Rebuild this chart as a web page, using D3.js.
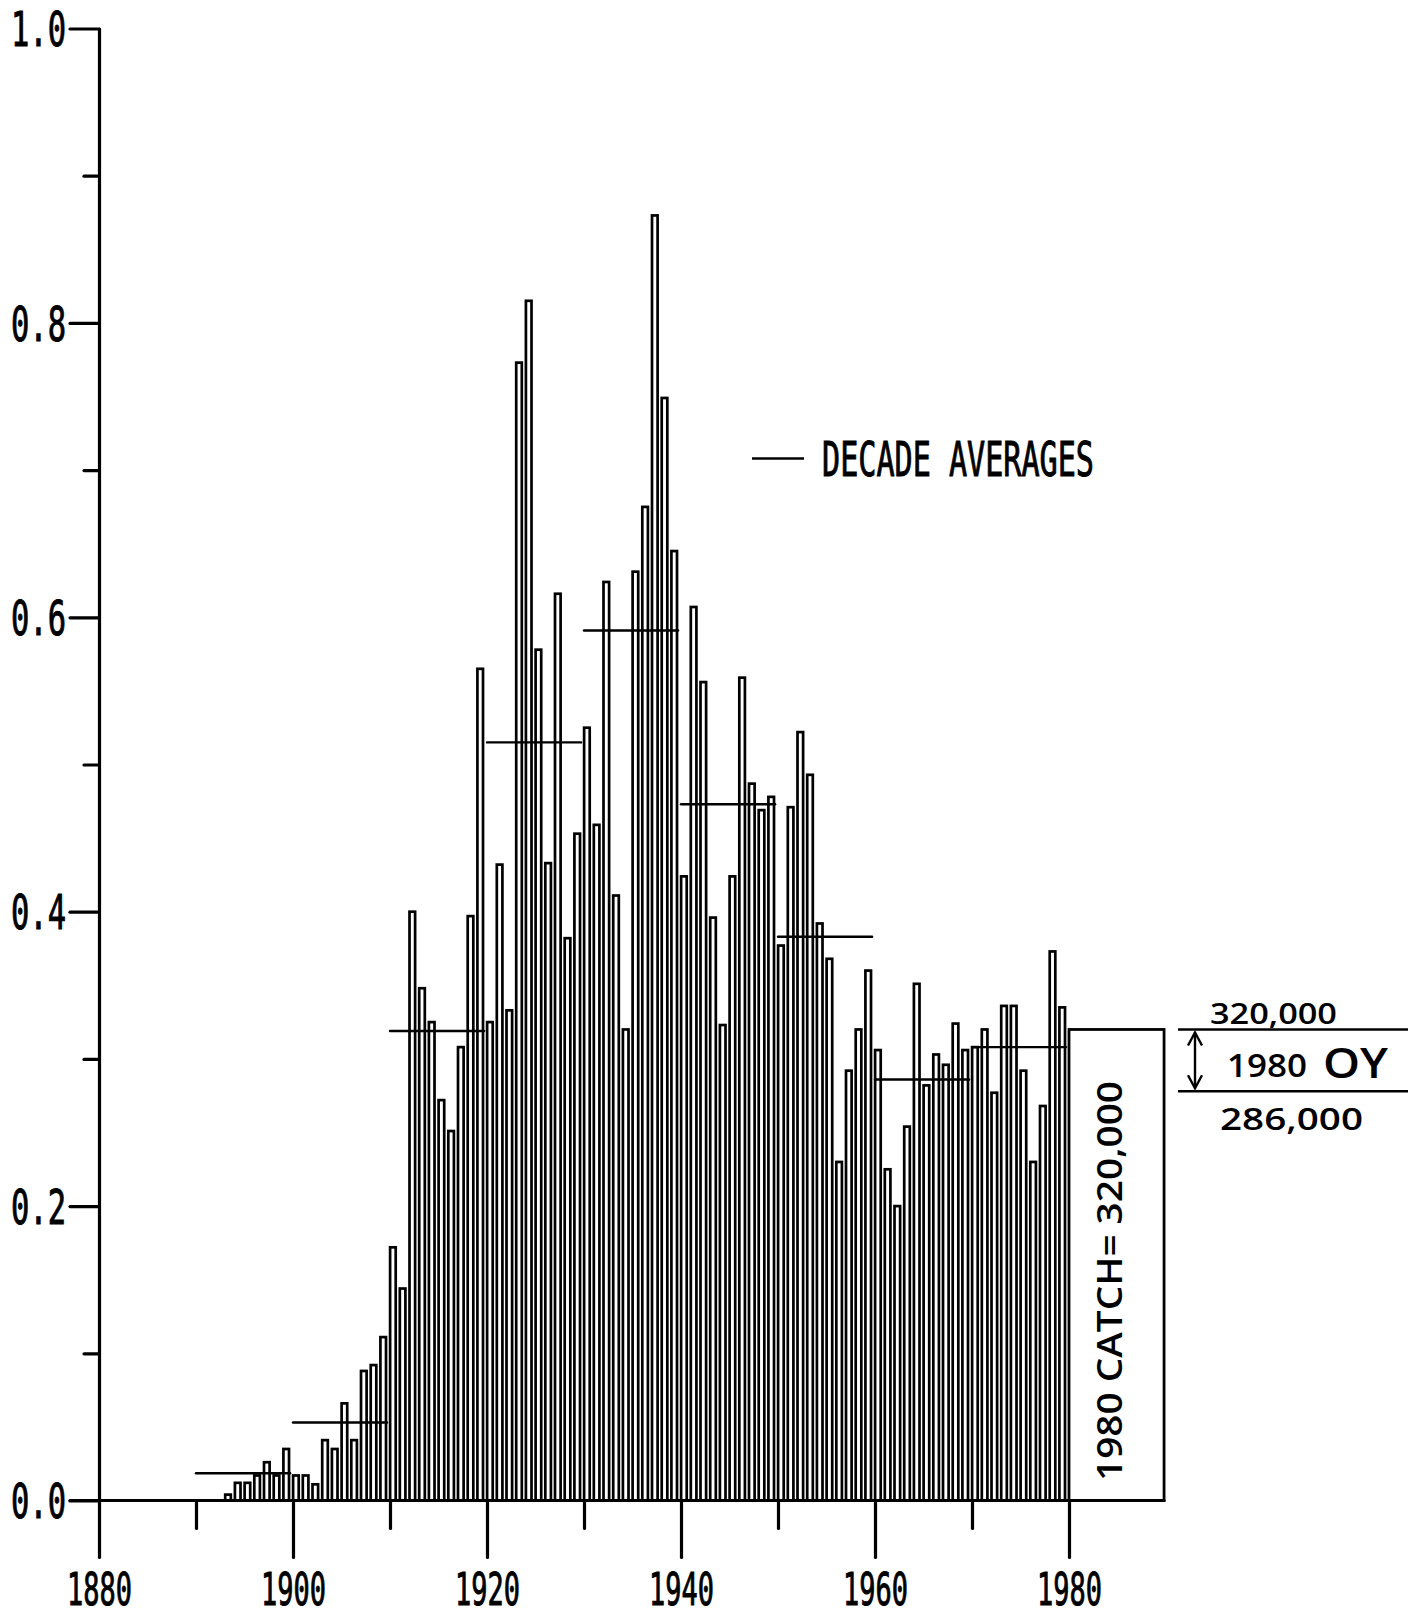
<!DOCTYPE html>
<html>
<head>
<meta charset="utf-8">
<title>Catch by year</title>
<script src="https://d3js.org/d3.v7.min.js"></script>
<style>
  body { margin: 0; background: #fff; }
  svg { display: block; background: #fff; }
  .bar { fill: #fff; stroke: #000; stroke-width: 2.7; }
  .avg { stroke: #000; stroke-width: 2.4; stroke-linecap: round; }
  .axis line, .axis path { stroke: #000; stroke-width: 3.2; stroke-linecap: round; }
  .plot-text { font-family: "DejaVu Sans Mono", monospace; fill: #000; }
  .hand { font-family: "Open Sans", sans-serif; fill: #000; font-weight: 600; }
</style>
</head>
<body>
<svg id="chart"></svg>
<script>
// yearly values (fraction of 1.0 scale)
var years = d3.range(1893, 1980);
var catchValues = [
  0.004, 0.012, 0.012, 0.017, 0.026, 0.017, 0.035,
  0.017, 0.017, 0.011, 0.041, 0.035, 0.066, 0.041, 0.088, 0.092, 0.111,
  0.172, 0.144, 0.400, 0.348, 0.325, 0.272, 0.251, 0.308, 0.397, 0.565,
  0.325, 0.432, 0.333, 0.773, 0.815, 0.578, 0.433, 0.616, 0.382, 0.453,
  0.525, 0.459, 0.624, 0.411, 0.320, 0.631, 0.675, 0.873, 0.749, 0.645,
  0.424, 0.607, 0.556, 0.396, 0.323, 0.424, 0.559, 0.487, 0.469, 0.478,
  0.377, 0.471, 0.522, 0.493, 0.392, 0.368, 0.230, 0.292, 0.320, 0.360,
  0.306, 0.225, 0.200, 0.254, 0.351, 0.282, 0.303, 0.296, 0.324, 0.306,
  0.308, 0.320, 0.277, 0.336, 0.336, 0.292, 0.230, 0.268, 0.373, 0.335
];
var decades = [1890, 1900, 1910, 1920, 1930, 1940, 1950, 1960, 1970];
var decadeAverages = [0.0185, 0.053, 0.319, 0.515, 0.591, 0.473, 0.383, 0.286, 0.308];

var yMajor = [0, 0.2, 0.4, 0.6, 0.8, 1.0];
var yMinor = [0.1, 0.3, 0.5, 0.7, 0.9];
var xMajor = [1880, 1900, 1920, 1940, 1960, 1980];
var xMinor = [1890, 1910, 1930, 1950, 1970];

var catch1980 = 0.32;
var catchLabel = "1980 CATCH= 320,000";
var oyHigh = 0.32, oyLow = 0.278;

var width = 1414, height = 1616;
var x = d3.scaleLinear().domain([1880, 1980]).range([99, 1069]);
var y = d3.scaleLinear().domain([0, 1]).range([1500.5, 28.5]);
var step = x(1881) - x(1880);

var svg = d3.select("#chart").attr("width", width).attr("height", height);

// bars (outer width about 8.3px, heavy pen outline)
svg.append("g").selectAll("rect")
  .data(years)
  .enter()
  .append("rect")
  .attr("class", "bar")
  .attr("x", function (d) { return x(d - 0.2) + 2.05; })
  .attr("width", step - 4.1)
  .attr("y", function (d, i) { return y(catchValues[i]); })
  .attr("height", function (d, i) { return y(0) - y(catchValues[i]); });

// decade averages
svg.append("g").selectAll("line")
  .data(decades)
  .enter()
  .append("line")
  .attr("class", "avg")
  .attr("x1", function (d) { return x(d); })
  .attr("x2", function (d) { return x(d + 9.7); })
  .attr("y1", function (d, i) { return y(decadeAverages[i]); })
  .attr("y2", function (d, i) { return y(decadeAverages[i]); });

// y axis
var yAxisMinor = svg.append("g").attr("class", "axis")
  .attr("transform", "translate(" + x(1880) + ",0)")
  .call(d3.axisLeft(y).tickValues(yMinor).tickSize(15).tickSizeOuter(0).tickFormat(""));
yAxisMinor.select(".domain").remove();

var yAxis = svg.append("g").attr("class", "axis plot-text")
  .attr("transform", "translate(" + x(1880) + ",0)")
  .call(d3.axisLeft(y).tickValues(yMajor).tickSize(29).tickSizeOuter(0).tickPadding(4).tickFormat(d3.format(".1f")));
yAxis.attr("font-family", null).attr("font-size", 48);
yAxis.selectAll("text").attr("textLength", 55).attr("lengthAdjust", "spacingAndGlyphs")
  .attr("dy", "0.36em")
  .style("stroke", "#000").style("stroke-width", 1);

// x axis
var xAxisMinor = svg.append("g").attr("class", "axis")
  .attr("transform", "translate(0," + y(0) + ")")
  .call(d3.axisBottom(x).tickValues(xMinor).tickSize(28).tickSizeOuter(0).tickFormat(""));
xAxisMinor.select(".domain").remove();

var xAxis = svg.append("g").attr("class", "axis plot-text")
  .attr("transform", "translate(0," + y(0) + ")")
  .call(d3.axisBottom(x).tickValues(xMajor).tickSize(57).tickSizeOuter(0).tickFormat(d3.format("d")));
xAxis.select(".domain").remove();
xAxis.attr("font-family", null).attr("font-size", 44);
xAxis.selectAll("text").attr("y", 104).attr("dy", 0)
  .attr("textLength", 65).attr("lengthAdjust", "spacingAndGlyphs")
  .style("stroke", "#000").style("stroke-width", 1);

// baseline, extended under the 1980 box
svg.append("line")
  .attr("x1", x(1880) - 29).attr("x2", x(1989.8))
  .attr("y1", y(0)).attr("y2", y(0))
  .attr("stroke", "#000").attr("stroke-width", 3.2).attr("stroke-linecap", "round");

// legend
svg.append("line")
  .attr("x1", 752).attr("x2", 804).attr("y1", 458.5).attr("y2", 458.5)
  .attr("stroke", "#000").attr("stroke-width", 2.4);
svg.append("text").attr("class", "plot-text")
  .attr("x", 822).attr("y", 476)
  .attr("font-size", 48)
  .attr("textLength", 272).attr("lengthAdjust", "spacingAndGlyphs")
  .style("stroke", "#000").style("stroke-width", 1)
  .text("DECADE AVERAGES");

// 1980 catch box
svg.append("rect")
  .attr("x", x(1980)).attr("width", x(1989.8) - x(1980))
  .attr("y", y(catch1980)).attr("height", y(0) - y(catch1980))
  .attr("fill", "none").attr("stroke", "#000").attr("stroke-width", 2.8);
svg.append("text").attr("class", "hand")
  .attr("transform", "translate(" + (x(1980) + 39) + "," + ((y(catch1980) + y(0)) / 2 + 16) + ") rotate(-90)")
  .attr("text-anchor", "middle").attr("dominant-baseline", "central")
  .attr("font-size", 35)
  .attr("textLength", 400).attr("lengthAdjust", "spacingAndGlyphs")
  .text(catchLabel);

// OY range annotation
[oyHigh, oyLow].forEach(function (v) {
  svg.append("line")
    .attr("x1", 1178).attr("x2", 1408)
    .attr("y1", y(v)).attr("y2", y(v))
    .attr("stroke", "#000").attr("stroke-width", 2.4);
});
svg.append("line")
  .attr("x1", 1195).attr("x2", 1195)
  .attr("y1", y(oyHigh) + 3).attr("y2", y(oyLow) - 3)
  .attr("stroke", "#000").attr("stroke-width", 2.4);
svg.append("path")
  .attr("d", "M1188," + (y(oyHigh) + 16) + "L1195," + (y(oyHigh) + 3) + "L1202," + (y(oyHigh) + 16))
  .attr("fill", "none").attr("stroke", "#000").attr("stroke-width", 2.4);
svg.append("path")
  .attr("d", "M1188," + (y(oyLow) - 16) + "L1195," + (y(oyLow) - 3) + "L1202," + (y(oyLow) - 16))
  .attr("fill", "none").attr("stroke", "#000").attr("stroke-width", 2.4);

svg.append("text").attr("class", "hand")
  .attr("x", 1210).attr("y", y(oyHigh) - 5)
  .attr("font-size", 28).attr("textLength", 127).attr("lengthAdjust", "spacingAndGlyphs")
  .text("320,000");
svg.append("text").attr("class", "hand")
  .attr("x", 1227).attr("y", 1077)
  .attr("font-size", 33).attr("textLength", 80).attr("lengthAdjust", "spacingAndGlyphs")
  .text("1980");
svg.append("text").attr("class", "hand")
  .attr("x", 1323).attr("y", 1078)
  .attr("font-size", 42).attr("textLength", 65).attr("lengthAdjust", "spacingAndGlyphs")
  .text("OY");
svg.append("text").attr("class", "hand")
  .attr("x", 1220).attr("y", 1130)
  .attr("font-size", 30).attr("textLength", 143).attr("lengthAdjust", "spacingAndGlyphs")
  .text("286,000");
</script>
</body>
</html>
